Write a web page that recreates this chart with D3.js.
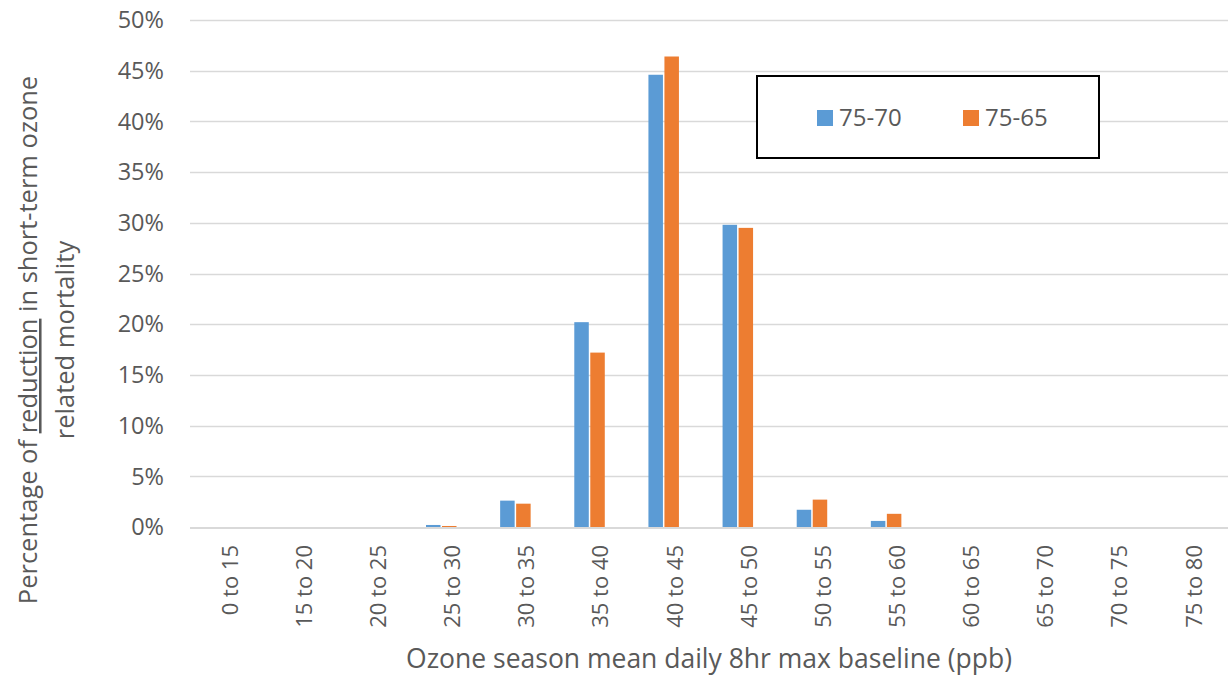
<!DOCTYPE html>
<html>
<head>
<meta charset="utf-8">
<script src="https://cdn.jsdelivr.net/npm/d3@7"></script>
<style>
  html, body { margin: 0; padding: 0; background: #fff; }
  svg { display: block; }
  text { font-family: "Open Sans", "Liberation Sans", sans-serif; fill: #595959; }
</style>
</head>
<body>
<svg id="chart" width="1231" height="675"></svg>
<script>
// ---- data ----
const categories = ["0 to 15","15 to 20","20 to 25","25 to 30","30 to 35","35 to 40","40 to 45",
                    "45 to 50","50 to 55","55 to 60","60 to 65","65 to 70","70 to 75","75 to 80"];
const seriesNames = ["75-70", "75-65"];
const series7570 = [0, 0, 0, 0.2, 2.6, 20.2, 44.6, 29.8, 1.7, 0.6, 0, 0, 0, 0];
const series7565 = [0, 0, 0, 0.1, 2.3, 17.2, 46.4, 29.5, 2.7, 1.3, 0, 0, 0, 0];
const seriesSlots = ["75-70", "75-65", "(empty)"]; // chart reserves a third, empty series slot
const yTicks = [0, 5, 10, 15, 20, 25, 30, 35, 40, 45, 50];
const colors = { "75-70": "#5b9bd5", "75-65": "#ed7d31" };

// ---- layout ----
const svg = d3.select("#chart");
const plot = { left: 190, right: 1228, top: 20, bottom: 527 };

const x0 = d3.scaleBand().domain(categories).range([plot.left, plot.right]).paddingInner(0).paddingOuter(0);
const cw = x0.bandwidth();
const x1 = d3.scaleBand().domain(seriesSlots).range([cw / 2 - 24, cw / 2 + 24]);
const y = d3.scaleLinear().domain([0, 50]).range([plot.bottom, plot.top]);

// gridlines
svg.append("g").selectAll("line").data(yTicks.filter(d => d > 0)).join("line")
  .attr("x1", plot.left).attr("x2", plot.right)
  .attr("y1", d => Math.round(y(d)) + 0.5).attr("y2", d => Math.round(y(d)) + 0.5)
  .attr("stroke", "#d9d9d9").attr("stroke-width", 1.5);

// y tick labels
svg.append("g").selectAll("text").data(yTicks).join("text")
  .attr("x", 164).attr("y", d => y(d)).attr("dy", "0.35em")
  .attr("text-anchor", "end").attr("font-size", 23.5)
  .text(d => d + "%");

// bars
const rows = categories.map((c, i) => ({ cat: c, vals: [
  { name: seriesNames[0], v: series7570[i] },
  { name: seriesNames[1], v: series7565[i] }
]}));
svg.append("g").selectAll("g").data(rows).join("g")
  .attr("transform", d => `translate(${x0(d.cat)},0)`)
  .selectAll("rect").data(d => d.vals.filter(e => e.v > 0)).join("rect")
  .attr("x", d => x1(d.name) + 0.5)
  .attr("width", x1.bandwidth() - 1.5)
  .attr("y", d => y(d.v))
  .attr("height", d => y(0) - y(d.v))
  .attr("fill", d => colors[d.name]);

// baseline
svg.append("line")
  .attr("x1", plot.left).attr("x2", plot.right)
  .attr("y1", y(0) + 1).attr("y2", y(0) + 1)
  .attr("stroke", "#d9d9d9").attr("stroke-width", 2);

// x tick labels (rotated)
svg.append("g").selectAll("text").data(categories).join("text")
  .attr("transform", d => `translate(${x0(d) + cw / 2 + 3},${545}) rotate(-90)`)
  .attr("text-anchor", "end").attr("dy", "0.35em").attr("font-size", 22)
  .text(d => d);

// x axis title
svg.append("text")
  .attr("x", 709).attr("y", 668)
  .attr("text-anchor", "middle").attr("font-size", 26.5)
  .text("Ozone season mean daily 8hr max baseline (ppb)");

// y axis title (two lines)
const yt = svg.append("text")
  .attr("transform", "translate(0,340) rotate(-90)")
  .attr("text-anchor", "middle").attr("font-size", 25.5);
const l1 = yt.append("tspan").attr("x", 0).attr("y", 37);
l1.append("tspan").text("Percentage of ");
l1.append("tspan").attr("text-decoration", "underline").text("reduction");
l1.append("tspan").text(" in short-term ozone");
yt.append("tspan").attr("x", 0).attr("y", 74).text("related mortality");

// legend
const lg = svg.append("g");
lg.append("rect").attr("x", 757).attr("y", 76).attr("width", 342).attr("height", 82)
  .attr("fill", "#fff").attr("stroke", "#000").attr("stroke-width", 2);
const legendX = [817, 963];
seriesNames.forEach((s, i) => {
  lg.append("rect").attr("x", legendX[i]).attr("y", 110).attr("width", 16).attr("height", 16)
    .attr("fill", colors[s]);
  lg.append("text").attr("x", legendX[i] + 22).attr("y", 118).attr("dy", "0.35em")
    .attr("font-size", 24).text(s);
});
</script>
</body>
</html>
